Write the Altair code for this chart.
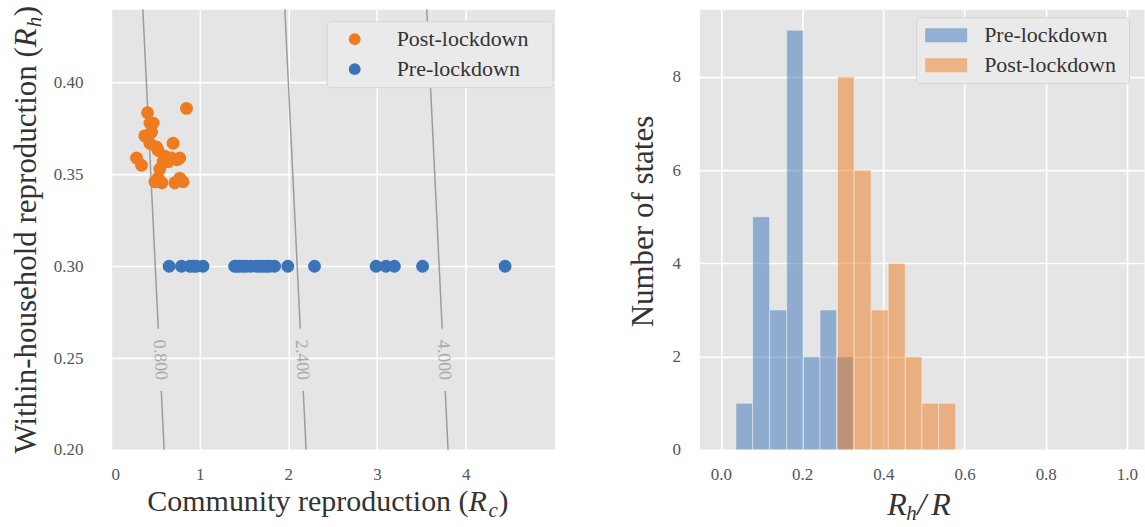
import altair as alt
import pandas as pd

FONT = "Liberation Serif"
ORANGE = "#EE7B1E"
BLUE = "#3B73B9"
TXT = "#333333"

# ---------------- left panel data ----------------
post_rc = [0.852, 0.413, 0.476, 0.458, 0.439, 0.701, 0.514, 0.532, 0.289, 0.345,
           0.607, 0.683, 0.776, 0.588, 0.532, 0.776, 0.720, 0.813, 0.645, 0.495,
           0.382, 0.551, 0.574, 0.440, 0.745]
post_rh = [0.386, 0.3836, 0.378, 0.373, 0.367, 0.367, 0.365, 0.363, 0.359, 0.355,
           0.360, 0.359, 0.359, 0.357, 0.348, 0.348, 0.3455, 0.346, 0.357, 0.346,
           0.371, 0.353, 0.3455, 0.378, 0.358]
pre_rc = [0.656, 0.795, 0.889, 0.930, 0.964, 1.038, 1.395, 1.420, 1.451, 1.490,
          1.526, 1.580, 1.639, 1.680, 1.713, 1.750, 1.789, 1.845, 1.994, 2.295,
          2.989, 3.101, 3.195, 3.513, 4.443]
pre_rh = [0.30] * len(pre_rc)

contour_levels = [0.8, 2.4, 4.0]
contour_label_rh = 0.249
contour_gap = (0.232, 0.266)

# ---------------- right panel data ----------------
pre_edges = [0.037, 0.078, 0.120, 0.162, 0.203, 0.244, 0.285, 0.326]
pre_counts = [1, 5, 3, 9, 2, 3, 2]
post_edges = [0.287, 0.328, 0.370, 0.412, 0.454, 0.495, 0.536, 0.578]
post_counts = [8, 6, 3, 4, 2, 1, 1]

# ---------------- tables ----------------
scatter_df = pd.DataFrame({
    "Rc": post_rc + pre_rc,
    "Rh": post_rh + pre_rh,
    "period": ["Post-lockdown"] * len(post_rc) + ["Pre-lockdown"] * len(pre_rc),
})

seg_rows = []
for lv in contour_levels:
    for a, b in [(0.44, contour_gap[1]), (contour_gap[0], 0.2)]:
        seg_rows.append({"x1": lv - a, "y1": a, "x2": lv - b, "y2": b})
seg_df = pd.DataFrame(seg_rows)
lab_df = pd.DataFrame({
    "x": [lv - contour_label_rh for lv in contour_levels],
    "y": [contour_label_rh] * len(contour_levels),
    "t": [f"{lv:.3f}" for lv in contour_levels],
})

hist_rows = []
for name, edges, counts in [("Pre-lockdown", pre_edges, pre_counts),
                            ("Post-lockdown", post_edges, post_counts)]:
    for i, c in enumerate(counts):
        hist_rows.append({"start": edges[i], "end": edges[i + 1], "count": c,
                          "base": 0, "period": name})
hist_df = pd.DataFrame(hist_rows)

# ---------------- helpers ----------------
xs_left = alt.Scale(domain=[0, 5], nice=False, zero=False)
ys_left = alt.Scale(domain=[0.2, 0.44], nice=False, zero=False)
x_axis_left = alt.Axis(values=[0, 1, 2, 3, 4], format="d", title=None, labelPadding=17)
y_axis_left = alt.Axis(values=[0.20, 0.25, 0.30, 0.35, 0.40], format=".2f", title=None, labelPadding=28)

NB = "\u00a0"
ZW = "\u200b"


def txt(s, x, y, size=30, style="normal", angle=0, align="left"):
    return alt.Chart(pd.DataFrame({"t": [s]})).mark_text(
        font=FONT, fontSize=size, fontStyle=style, angle=angle, align=align,
        baseline="alphabetic", color=TXT
    ).encode(text="t:N", x=alt.value(x), y=alt.value(y))


# ---------------- left panel ----------------
contours = alt.Chart(seg_df).mark_rule(color="#9c9c9c", strokeWidth=1.5).encode(
    x=alt.X("x1:Q", scale=xs_left, axis=x_axis_left),
    y=alt.Y("y1:Q", scale=ys_left, axis=y_axis_left),
    x2="x2:Q", y2="y2:Q",
)
contour_labels = alt.Chart(lab_df).mark_text(
    font=FONT, fontSize=18, color="#ababab", angle=87, align="center", baseline="middle"
).encode(
    x=alt.X("x:Q", scale=xs_left, axis=x_axis_left),
    y=alt.Y("y:Q", scale=ys_left, axis=y_axis_left),
    text="t:N",
)
scatter = alt.Chart(scatter_df).mark_circle(size=165, opacity=1).encode(
    x=alt.X("Rc:Q", scale=xs_left, axis=x_axis_left),
    y=alt.Y("Rh:Q", scale=ys_left, axis=y_axis_left),
    color=alt.Color("period:N",
                    scale=alt.Scale(domain=["Post-lockdown", "Pre-lockdown"], range=[ORANGE, BLUE]),
                    legend=alt.Legend(title=None, orient="none", legendX=216, legendY=12,
                                      symbolType="circle", symbolSize=140, symbolStrokeWidth=0,
                                      labelFont=FONT, labelFontSize=22, labelColor=TXT, labelLimit=400,
                                      padding=7, rowPadding=8, symbolOffset=10, labelOffset=31,
                                      fillColor="#EAEAEA", strokeColor="#D4D4D4", cornerRadius=4,
                                      labelExpr="datum.label + '" + NB * 3 + ZW + "'")),
)

left = alt.layer(
    contours, contour_labels, scatter,
    txt("Community reproduction (", 358, 502, align="right"),
    txt("R", 358, 502, style="italic"),
    txt("c", 378, 508, size=21, style="italic"),
    txt(")", 388, 502),
    txt("Within-household reproduction (", -75, 38, size=31, angle=270, align="right"),
    txt("R", -75, 38, size=31, style="italic", angle=270),
    txt("h", -70, 18, size=21, style="italic", angle=270),
    txt(")", -75, 7, size=31, angle=270),
).properties(width=444, height=441)

# ---------------- right panel ----------------
bars = alt.Chart(hist_df).mark_rect(opacity=0.5, stroke="white", strokeWidth=0.8, strokeOpacity=0.7).encode(
    x=alt.X("start:Q", scale=alt.Scale(domain=[-0.053, 1.042], nice=False, zero=False),
            axis=alt.Axis(values=[0, 0.2, 0.4, 0.6, 0.8, 1.0], format=".1f", title=None, labelPadding=17)),
    x2="end:Q",
    y=alt.Y("count:Q", scale=alt.Scale(domain=[0, 9.45], nice=False),
            axis=alt.Axis(values=[0, 2, 4, 6, 8], title="Number of states", titlePadding=12,
                          labelPadding=19, titleFontSize=31, titleY=212)),
    y2="base:Q",
    color=alt.Color("period:N",
                    scale=alt.Scale(domain=["Pre-lockdown", "Post-lockdown"], range=[BLUE, ORANGE]),
                    legend=alt.Legend(title=None, orient="none", legendX=217, legendY=8,
                                      symbolType="M-3,-1L3,-1L3,1L-3,1Z",
                                      symbolSize=196, symbolStrokeWidth=0, symbolOpacity=0.5,
                                      labelFont=FONT, labelFontSize=22, labelColor=TXT, labelLimit=400,
                                      padding=7, rowPadding=8, symbolOffset=12, labelOffset=27,
                                      fillColor="#EAEAEA", strokeColor="#D4D4D4", cornerRadius=4,
                                      labelExpr="datum.label + '" + NB * 1 + ZW + "'")),
)

right = alt.layer(
    bars,
    txt("R", 188, 506, size=32, style="italic"),
    txt("h", 207, 511, size=21, style="italic"),
    txt("/", 218, 506, size=32, style="italic"),
    txt("R", 232, 506, size=32, style="italic"),
).properties(width=445, height=441)

chart = alt.hconcat(left, right, spacing=145, bounds="flush").resolve_scale(
    x="independent", y="independent", color="independent"
).properties(
    padding={"left": 10, "top": 5, "right": 0, "bottom": 0}
).configure_view(
    fill="#E5E5E5", stroke="transparent"
).configure_axis(
    gridColor="white", gridWidth=1.6, domain=False, ticks=False,
    labelFont=FONT, labelFontSize=17, labelColor="#555555",
    titleFont=FONT, titleFontSize=30, titleColor=TXT, titleFontWeight="normal",
)

chart.save("out.html", embed_options={"renderer": "svg", "actions": False})
